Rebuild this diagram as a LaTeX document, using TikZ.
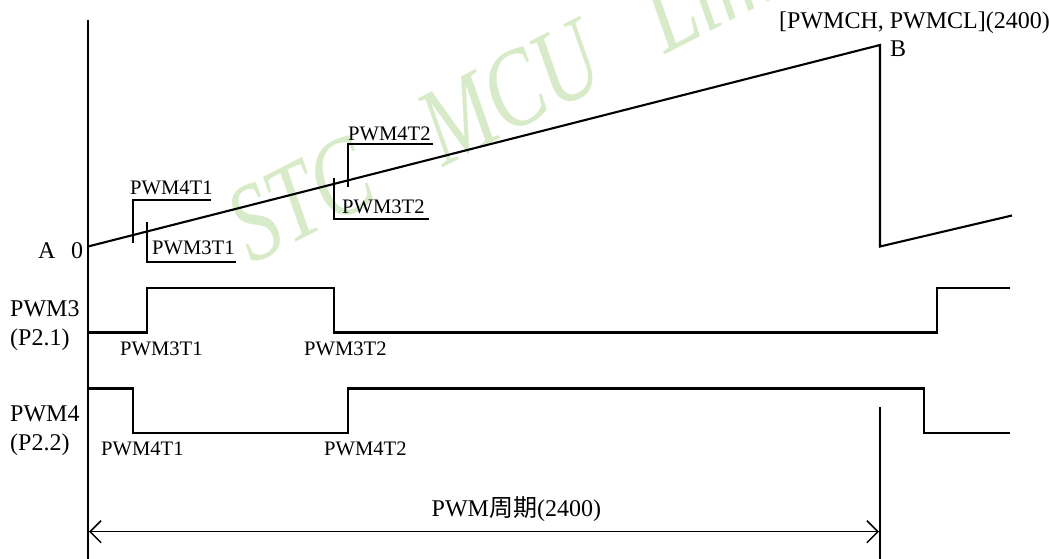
\documentclass[tikz,border=0pt]{standalone}
\usepackage{fontspec}
\setmainfont{Liberation Serif}
\newfontfamily\cjk{Noto Sans CJK SC}
\usetikzlibrary{arrows.meta}
\definecolor{wmgreen}{RGB}{216,235,200}
\tikzset{
  wire/.style={line width=2.1pt, line join=miter},
  thinwire/.style={line width=1.5pt},
  big/.style={inner sep=0pt, anchor=base west, font=\fontsize{24}{28}\selectfont},
  small/.style={inner sep=0pt, anchor=base west, font=\fontsize{20.6}{24}\selectfont},
}
\begin{document}
\begin{tikzpicture}[x=1pt,y=-1pt]
\useasboundingbox (0,0) rectangle (1049,559);
% watermark
\begin{scope}
\clip (0,0) rectangle (1049,559);
\node[inner sep=0pt, anchor=base west, rotate=27, text=wmgreen,
      font=\fontsize{84}{94}\selectfont\itshape] (wm) at (252,265)
      {\scalebox{1}[1.32]{STC\hspace{70pt}MCU\hspace{62pt}Limited}};
\end{scope}
% key points
\coordinate (ax0) at (88,20);
\coordinate (ax1) at (88,559);
\coordinate (A) at (88,246.5);
\coordinate (Bp) at (880,45);
\coordinate (Bd) at (880,246.5);
\coordinate (R2) at (1012,215.5);
% axis and ramp
\draw[wire] (ax0) -- (ax1);
\draw[wire] (A) -- (Bp) -- (Bd) -- (R2);
% ramp markers
\draw[wire] (211,200) -- (133,200) -- (133,243);
\draw[wire] (147,222) -- (147,262) -- (236,262);
\draw[wire] (433,144) -- (348,144) -- (348,187);
\draw[wire] (334,178) -- (334,219) -- (429,219);
% waveforms
\draw[wire] (88,332.5) -- (147,332.5) -- (147,288) -- (334,288) -- (334,332.5)
  -- (937,332.5) -- (937,288) -- (1010,288);
\draw[wire] (88,388.5) -- (133,388.5) -- (133,433) -- (348,433) -- (348,388.5)
  -- (924,388.5) -- (924,433) -- (1010,433);
% period
\coordinate (pT) at (880,407);
\coordinate (pB) at (880,559);
\draw[thinwire] (pT) -- (pB);
\coordinate (pL) at (89,531.7);
\coordinate (pR) at (879,531.7);
\draw[thinwire, {Straight Barb[length=11pt,width=22pt]}-{Straight Barb[length=11pt,width=22pt]}] (pL) -- (pR);
% labels
\node[big] (lA) at (38,258) {A};
\node[big] (l0) at (71,258) {0};
\node[big] (lmax) at (779,29) {[PWMCH, PWMCL](2400)};
\node[big] (lB) at (890,57) {B};
\node[small] (r4t1) at (130,194) {PWM4T1};
\node[small] (r3t1) at (152,254) {PWM3T1};
\node[small] (r4t2) at (348,140) {PWM4T2};
\node[small] (r3t2) at (342,213) {PWM3T2};
\node[big] (p3) at (10,316.5) {PWM3};
\node[big] (p3b) at (10,345.5) {(P2.1)};
\node[big] (p4) at (10,421.5) {PWM4};
\node[big] (p4b) at (10,450.5) {(P2.2)};
\node[small] (w3t1) at (120,355) {PWM3T1};
\node[small] (w3t2) at (304,355) {PWM3T2};
\node[small] (w4t1) at (101,455.5) {PWM4T1};
\node[small] (w4t2) at (324,455.5) {PWM4T2};
\node[big] (per) at (431.5,516.5) {PWM{\cjk 周期}(2400)};
\end{tikzpicture}
\end{document}
